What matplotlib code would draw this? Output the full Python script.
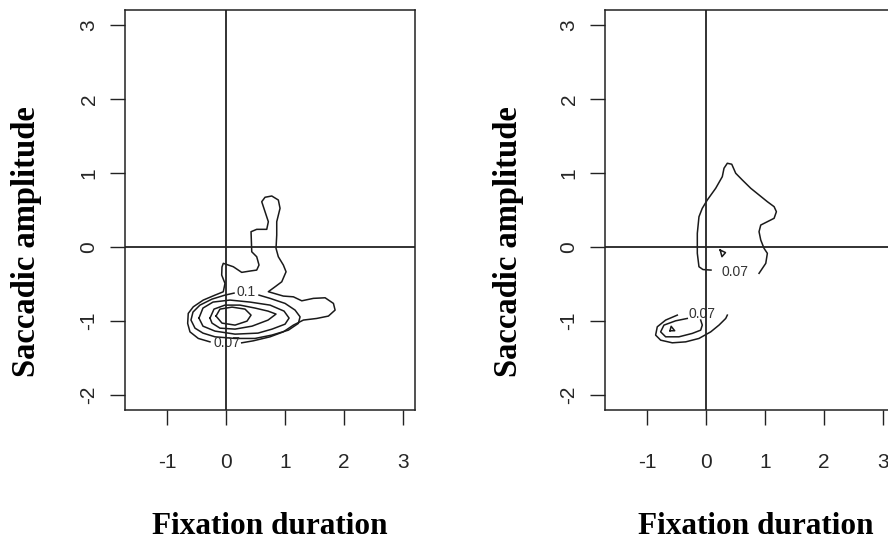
import numpy as np
import matplotlib.pyplot as plt

# axis ticks (R-style plot, both panels share the same scales)
x_ticks = [-1, 0, 1, 2, 3]
y_ticks = [-2, -1, 0, 1, 2, 3]
x_lim = (-1.71, 3.20)
y_lim = (-2.20, 3.20)

# ---- left panel: density contours ----
# outermost contour (finger + right lobe + base), broken at the "0.07" label
left_a_x = [0.266, 0.463, 0.746, 0.971, 1.141, 1.310, 1.537, 1.734, 1.847, 1.819, 1.678,
            1.480, 1.283, 1.141, 0.971, 0.717, 0.847, 0.944, 1.017, 0.971, 0.886, 0.847,
            0.859, 0.859, 0.915, 0.886, 0.775, 0.661, 0.605, 0.661, 0.717, 0.690, 0.520,
            0.424, 0.436, 0.520, 0.559, 0.520, 0.407, 0.266, 0.124, -0.046, -0.068, -0.073,
            -0.017, -0.046, -0.186, -0.385, -0.554, -0.639, -0.649, -0.610, -0.469, -0.271]
left_a_y = [-1.293, -1.266, -1.212, -1.145, -1.054, -0.986, -0.964, -0.932, -0.851, -0.761,
            -0.685, -0.693, -0.726, -0.672, -0.662, -0.603, -0.527, -0.469, -0.334, -0.243,
            -0.131, -0.018, 0.162, 0.342, 0.523, 0.635, 0.689, 0.672, 0.612, 0.477, 0.342,
            0.239, 0.239, 0.207, -0.064, -0.131, -0.243, -0.311, -0.324, -0.342, -0.266,
            -0.220, -0.270, -0.378, -0.491, -0.604, -0.649, -0.716, -0.807, -0.896, -1.031,
            -1.145, -1.234, -1.280]
# second contour, broken at the "0.1" label
left_b_x = [0.559, 0.746, 1.000, 1.169, 1.254, 1.225, 1.056, 0.775, 0.492, 0.153, -0.186,
            -0.390, -0.525, -0.593, -0.559, -0.441, -0.237, -0.017, 0.136]
left_b_y = [-0.649, -0.693, -0.761, -0.851, -0.942, -1.031, -1.122, -1.189, -1.234, -1.234,
            -1.212, -1.162, -1.095, -0.986, -0.878, -0.784, -0.703, -0.649, -0.622]
left_c_x = [-0.458, -0.390, -0.220, 0.068, 0.407, 0.746, 0.983, 1.068, 1.000, 0.780, 0.542,
            0.153, -0.186, -0.390, -0.458]
left_c_y = [-0.959, -0.824, -0.743, -0.716, -0.743, -0.784, -0.865, -0.959, -1.041, -1.108,
            -1.162, -1.176, -1.135, -1.068, -0.959]
left_d_x = [-0.271, -0.203, -0.017, 0.237, 0.492, 0.712, 0.847, 0.712, 0.441, 0.153, -0.102,
            -0.237, -0.271]
left_d_y = [-0.959, -0.838, -0.784, -0.784, -0.824, -0.865, -0.905, -0.986, -1.068, -1.108,
            -1.095, -1.027, -0.959]
left_e_x = [-0.169, -0.102, 0.102, 0.322, 0.424, 0.356, 0.153, -0.068, -0.169]
left_e_y = [-0.932, -0.838, -0.811, -0.838, -0.919, -1.000, -1.054, -1.027, -0.932]
left_labels = ["0.1", "0.07"]
left_label_x = [0.339, 0.017]
left_label_y = [-0.608, -1.300]

# ---- right panel ----
right_up_x = [0.898, 1.012, 1.039, 0.983, 0.927, 0.898, 0.927, 1.039, 1.153, 1.192, 1.153,
              1.039, 0.898, 0.758, 0.615, 0.503, 0.436, 0.361, 0.305, 0.276, 0.164, 0.022,
              -0.063, -0.119, -0.147, -0.147, -0.119, -0.051, 0.085]
right_up_y = [-0.355, -0.220, -0.085, -0.018, 0.095, 0.207, 0.297, 0.342, 0.388, 0.477, 0.545,
              0.612, 0.703, 0.793, 0.905, 0.996, 1.118, 1.131, 1.064, 0.950, 0.793, 0.635,
              0.523, 0.409, 0.185, -0.085, -0.266, -0.304, -0.311]
right_peak_x = [0.24, 0.33, 0.27, 0.24]
right_peak_y = [-0.04, -0.075, -0.13, -0.04]
right_low_out_x = [-0.486, -0.683, -0.825, -0.853, -0.768, -0.571, -0.344, -0.119, 0.080,
                   0.220, 0.334, 0.361]
right_low_out_y = [-0.919, -0.986, -1.077, -1.189, -1.257, -1.293, -1.280, -1.234, -1.145,
                   -1.054, -0.964, -0.919]
right_low_in_x = [-0.090, -0.063, -0.090, -0.232, -0.458, -0.683, -0.768, -0.712, -0.514,
                  -0.317]
right_low_in_y = [-0.986, -1.054, -1.122, -1.166, -1.212, -1.212, -1.145, -1.054, -0.996,
                  -0.964]
right_low_peak_x = [-0.61, -0.53, -0.59, -0.61]
right_low_peak_y = [-1.13, -1.13, -1.07, -1.13]
right_labels = ["0.07", "0.07"]
right_label_x = [0.492, -0.068]
right_label_y = [-0.334, -0.905]

fig = plt.figure(figsize=(8.88, 5.42), dpi=100)
W, H = 888, 542
ax1 = fig.add_axes([125 / W, (H - 410) / H, 290 / W, 400 / H])
ax2 = fig.add_axes([605 / W, (H - 410) / H, 290 / W, 400 / H])

tick_font = {'family': 'Liberation Sans', 'size': 15}
label_font = dict(family='Liberation Serif', weight='bold')


def style(ax):
    ax.set_xlim(*x_lim)
    ax.set_ylim(*y_lim)
    ax.set_xticks(x_ticks)
    ax.set_yticks(y_ticks)
    ax.set_xticklabels([str(t) for t in x_ticks], fontdict=tick_font, color='#262626')
    ax.set_yticklabels([str(t) for t in y_ticks], fontdict=tick_font, rotation=90,
                       color='#262626')
    for lab in ax.get_yticklabels():
        lab.set_va('center')
    ax.tick_params(axis='x', direction='out', length=11, width=1.0, pad=20, color='#222222')
    ax.tick_params(axis='y', direction='out', length=11, width=1.0, pad=8, color='#222222')
    for sp in ax.spines.values():
        sp.set_linewidth(1.1)
        sp.set_color('#222222')
    ax.axhline(0, color='#222222', lw=1.3, zorder=4)
    ax.axvline(0, color='#222222', lw=1.3, zorder=4)


def contour(ax, xs, ys):
    ax.plot(xs, ys, color='#1a1a1a', lw=1.1, solid_joinstyle='round', zorder=2)


style(ax1)
contour(ax1, left_a_x, left_a_y)
contour(ax1, left_b_x, left_b_y)
contour(ax1, left_c_x, left_c_y)
contour(ax1, left_d_x, left_d_y)
contour(ax1, left_e_x, left_e_y)
for t, x, y in zip(left_labels, left_label_x, left_label_y):
    ax1.text(x, y, t, fontsize=10, family='Liberation Sans', ha='center', va='center',
             color='#333333', zorder=3)

style(ax2)
contour(ax2, right_up_x, right_up_y)
contour(ax2, right_peak_x, right_peak_y)
contour(ax2, right_low_out_x, right_low_out_y)
contour(ax2, right_low_in_x, right_low_in_y)
contour(ax2, right_low_peak_x, right_low_peak_y)
for t, x, y in zip(right_labels, right_label_x, right_label_y):
    ax2.text(x, y, t, fontsize=10, family='Liberation Sans', ha='center', va='center',
             color='#333333', zorder=3)

# axis titles placed like R's mtext
fig.text(270 / W, 1 - 527 / H, 'Fixation duration', ha='center', va='center',
         size=22.5, **label_font)
fig.text(756 / W, 1 - 527 / H, 'Fixation duration', ha='center', va='center',
         size=22.5, **label_font)
fig.text(27 / W, 1 - 242 / H, 'Saccadic amplitude', ha='center', va='center',
         rotation=90, size=23.5, **label_font)
fig.text(509 / W, 1 - 242 / H, 'Saccadic amplitude', ha='center', va='center',
         rotation=90, size=23.5, **label_font)

fig.savefig('out.png', dpi=100)
